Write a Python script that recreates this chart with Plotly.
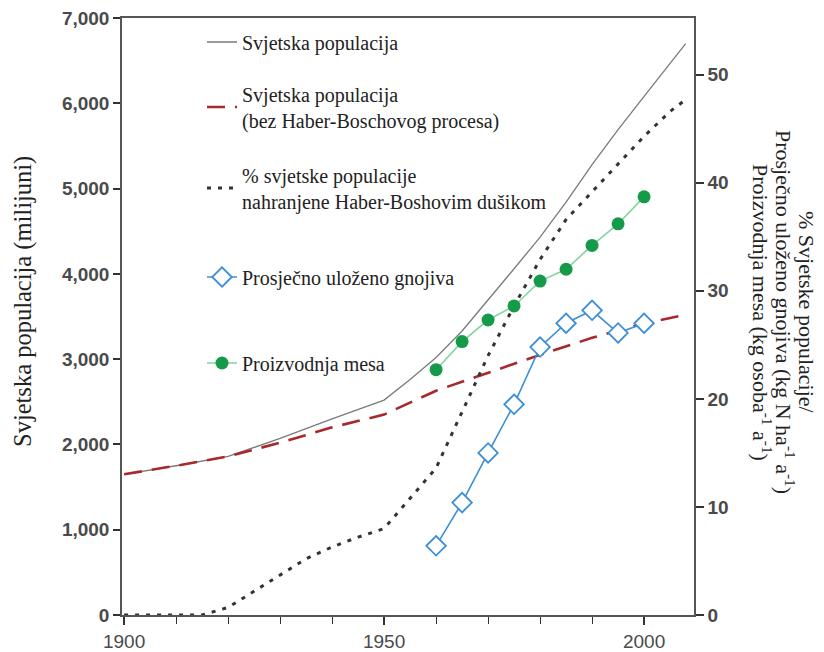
import plotly.graph_objects as go

# ---- data ----
pop_years = [1900, 1910, 1920, 1930, 1940, 1950, 1955, 1960, 1965, 1970, 1975,
             1980, 1985, 1990, 1995, 2000, 2005, 2008]
pop_world = [1650, 1750, 1860, 2070, 2300, 2520, 2760, 3020, 3330, 3690, 4060,
             4430, 4840, 5280, 5690, 6080, 6460, 6700]

nohb_years = [1900, 1910, 1920, 1930, 1940, 1950, 1960, 1970, 1980, 1990, 2000, 2008]
pop_no_hb = [1650, 1750, 1860, 2020, 2200, 2350, 2630, 2840, 3050, 3250, 3420, 3520]

pct_years = [1900, 1905, 1910, 1915, 1920, 1925, 1930, 1935, 1940, 1945, 1950, 1955,
             1960, 1965, 1970, 1975, 1980, 1985, 1990, 1995, 2000, 2005, 2008]
pct_hb = [0, 0, 0, 0, 0.7, 2.2, 3.7, 5.2, 6.3, 7.2, 8.0, 10.8,
          13.6, 18.8, 24.0, 28.6, 32.9, 36.6, 39.2, 41.8, 44.3, 46.6, 47.7]

ag_years = [1960, 1965, 1970, 1975, 1980, 1985, 1990, 1995, 2000]
fertilizer = [6.4, 10.4, 15.0, 19.5, 24.8, 27.0, 28.2, 26.1, 27.0]
meat = [22.7, 25.3, 27.3, 28.6, 30.9, 32.0, 34.2, 36.2, 38.7]

x_major_step, x_minor_step = 50, 10
y_left_ticks = [0, 1000, 2000, 3000, 4000, 5000, 6000, 7000]
y_right_ticks = [0, 10, 20, 30, 40, 50]

right_title_lines = [
    "% Svjetske populacije/",
    "Prosječno uloženo gnojiva (kg N ha<sup>-1</sup> a<sup>-1</sup>)",
    "Proizvodnja mesa (kg osoba<sup>-1</sup> a<sup>-1</sup>)",
]

SERIF = "Liberation Serif"
SANS = "Liberation Sans"
LEG_FONT = dict(family=SERIF, size=20, color="#222222")

# page body has an 8px margin; work in screen pixels and convert
OFF = 8
W, H = 824 - OFF, 652 - OFF
PLOT_L, PLOT_R, PLOT_T, PLOT_B = 122, 694, 18, 615   # screen pixels
ML, MT = PLOT_L - OFF, PLOT_T - OFF
MR, MB = W - (PLOT_R - OFF), H - (PLOT_B - OFF)
PW, PH = PLOT_R - PLOT_L, PLOT_B - PLOT_T

fig = go.Figure()

fig.add_trace(go.Scatter(
    x=pop_years, y=pop_world, mode="lines", name="Svjetska populacija",
    line=dict(color="#7a7a7a", width=1.3), legend="legend"))
fig.add_trace(go.Scatter(
    x=nohb_years, y=pop_no_hb, mode="lines",
    name="Svjetska populacija<br>(bez Haber-Boschovog procesa)",
    line=dict(color="#a8282b", width=2.6, dash="18px,10px"), legend="legend2"))
fig.add_trace(go.Scatter(
    x=pct_years, y=pct_hb, mode="lines", yaxis="y2",
    name="% svjetske populacije<br>nahranjene Haber-Boshovim dušikom",
    line=dict(color="#333333", width=3, dash="4px,7px"), legend="legend3"))
fig.add_trace(go.Scatter(
    x=ag_years, y=fertilizer, mode="lines+markers", yaxis="y2",
    name="Prosječno uloženo gnojiva",
    line=dict(color="#3d8fd6", width=1.6),
    marker=dict(symbol="diamond", size=15, color="white",
                line=dict(color="#3d8fd6", width=1.8)), legend="legend4"))
fig.add_trace(go.Scatter(
    x=ag_years, y=meat, mode="lines+markers", yaxis="y2",
    name="Proizvodnja mesa",
    line=dict(color="#86d3a2", width=1.6),
    marker=dict(symbol="circle", size=13, color="#159a4a"), legend="legend5"))


def ly(screen_y):
    return 1 - (screen_y - PLOT_T) / PH


def px_x(screen_x):
    return (screen_x - PLOT_L) / PW


common_leg = dict(x=px_x(202), xanchor="left", yanchor="middle",
                  bgcolor="rgba(0,0,0,0)", font=LEG_FONT, borderwidth=0)

annotations = []
for line_text, xc in zip(right_title_lines, [807, 785, 762]):
    annotations.append(dict(
        text=line_text, xref="paper", yref="paper", x=px_x(xc), y=ly(312),
        xanchor="center", yanchor="middle", textangle=90, showarrow=False,
        font=dict(family=SERIF, size=22, color="#222")))
# left axis title (placed as an annotation for exact positioning)
annotations.append(dict(
    text="Svjetska populacija (milijuni)", xref="paper", yref="paper",
    x=px_x(23), y=ly(302), xanchor="center", yanchor="middle", textangle=-90,
    showarrow=False, font=dict(family=SERIF, size=24.5, color="#222")))

fig.update_layout(
    width=W, height=H,
    margin=dict(l=ML, r=MR, t=MT, b=MB),
    paper_bgcolor="white", plot_bgcolor="white",
    showlegend=True,
    legend=dict(y=ly(42), **common_leg),
    legend2=dict(y=ly(107), **common_leg),
    legend3=dict(y=ly(188), **common_leg),
    legend4=dict(y=ly(277), **common_leg),
    legend5=dict(y=ly(363), **common_leg),
    xaxis=dict(range=[1899.6, 2009.6], tickmode="linear", tick0=1900, dtick=x_major_step,
               ticks="outside", ticklen=8, tickwidth=1.5, tickcolor="#333",
               minor=dict(tick0=1900, dtick=x_minor_step, ticks="outside", ticklen=7,
                          tickwidth=1.3, tickcolor="#333", showgrid=False),
               showline=True, linecolor="#555", linewidth=1.5, mirror=True,
               showgrid=False, zeroline=False, automargin=False,
               ticklabeloverflow="allow",
               tickfont=dict(family=SANS, size=19, color="#4a4a4a")),
    yaxis=dict(range=[0, 7000], tickvals=y_left_ticks, tickformat=",d",
               ticks="outside", ticklen=7, tickwidth=1.5, tickcolor="#333",
               showline=True, linecolor="#555", linewidth=1.5,
               showgrid=False, zeroline=False, automargin=False,
               ticklabeloverflow="allow",
               tickfont=dict(family=SANS, size=19, color="#4a4a4a", weight="bold")),
    yaxis2=dict(range=[0, 55.25], tickvals=y_right_ticks, overlaying="y", side="right",
                ticks="outside", ticklen=8, tickwidth=1.5, tickcolor="#333",
                showline=True, linecolor="#555", linewidth=1.5,
                showgrid=False, zeroline=False, automargin=False,
                ticklabeloverflow="allow",
                tickfont=dict(family=SANS, size=19, color="#4a4a4a", weight="bold")),
    annotations=annotations,
)

fig.write_html("out.html")
